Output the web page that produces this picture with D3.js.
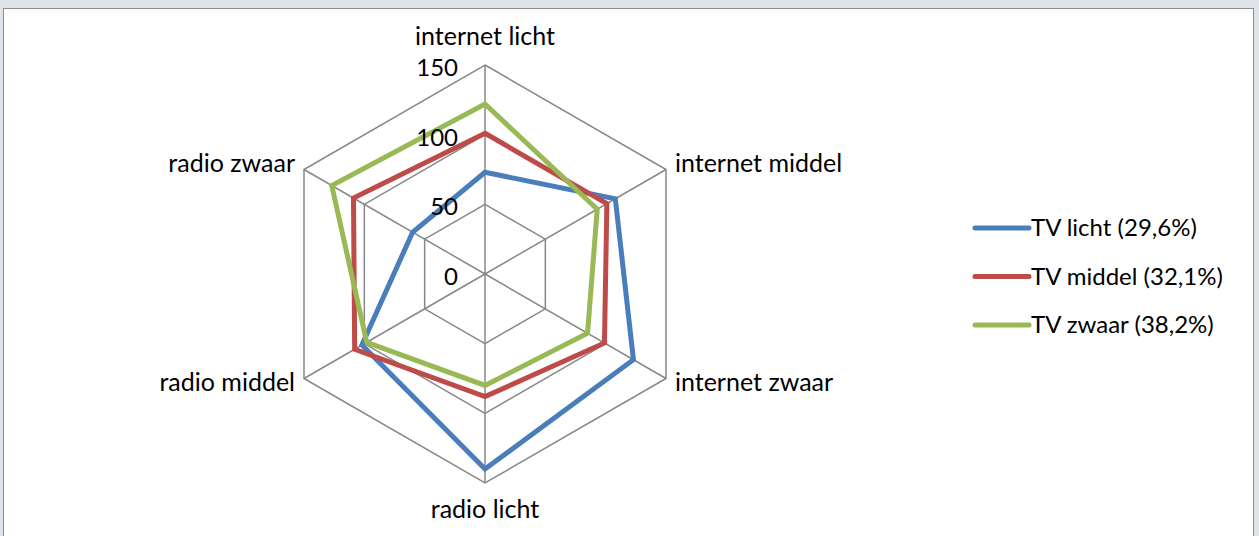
<!DOCTYPE html>
<html>
<head>
<meta charset="utf-8">
<script src="https://cdn.jsdelivr.net/npm/d3@7"></script>
<style>
  body { margin: 0; background: #d9dee4; }
  svg { display: block; }
  text { font-family: Lato, "Open Sans", sans-serif; fill: #000; }
</style>
</head>
<body>
<svg id="chart" width="1259" height="536"></svg>
<script>
// categories round the radar, clockwise from the top
const categorieen = ['internet licht', 'internet middel', 'internet zwaar', 'radio licht', 'radio middel', 'radio zwaar'];
const tvLicht  = [73, 108, 123, 140, 102, 60];
const tvMiddel = [101, 101, 99, 88, 108, 109];
const tvZwaar  = [122, 93, 85, 80, 98, 127];
const reeksNamen = ['TV licht (29,6%)', 'TV middel (32,1%)', 'TV zwaar (38,2%)'];
const tickWaarden = [0, 50, 100, 150];

const kleuren = ['#4a7ebb', '#be4b48', '#98b954'];
const reeksen = [tvLicht, tvMiddel, tvZwaar];

const svg = d3.select('#chart');

// achtergrond en kader
svg.append('rect')
  .attr('x', 0).attr('y', 0).attr('width', 1259).attr('height', 536)
  .attr('fill', '#dfe4ea');
svg.append('rect')
  .attr('x', 3.5).attr('y', 8.5).attr('width', 1250).attr('height', 540)
  .attr('fill', '#fff')
  .attr('stroke', '#8e8e8e');

const cx = 485, cy = 274;
const r = d3.scaleLinear().domain([0, 150]).range([0, 209]);
const hoek = d3.scalePoint().domain(d3.range(categorieen.length + 1)).range([0, 2 * Math.PI]);

function punt(i, v) {
  const a = hoek(i);
  return [cx + r(v) * Math.sin(a), cy - r(v) * Math.cos(a)];
}

const g = svg.append('g');

// raster
tickWaarden.filter(t => t > 0).forEach(t => {
  g.append('path')
    .attr('d', d3.line()(categorieen.map((c, i) => punt(i, t))) + 'Z')
    .attr('fill', 'none')
    .attr('stroke', '#888')
    .attr('stroke-width', 1.5);
});
categorieen.forEach((c, i) => {
  const p = punt(i, 150);
  g.append('line')
    .attr('x1', cx).attr('y1', cy).attr('x2', p[0]).attr('y2', p[1])
    .attr('stroke', '#888')
    .attr('stroke-width', 1.5);
});

// reeksen
const lijn = d3.line().x(d => d[0]).y(d => d[1]);
reeksen.forEach((reeks, k) => {
  g.append('path')
    .attr('d', lijn(reeks.map((v, i) => punt(i, v))) + 'Z')
    .attr('fill', 'none')
    .attr('stroke', kleuren[k])
    .attr('stroke-width', 5)
    .attr('stroke-linejoin', 'miter');
});

// tick labels
tickWaarden.forEach(t => {
  g.append('text')
    .attr('x', cx - 27)
    .attr('y', cy - r(t) + 11)
    .attr('text-anchor', 'end')
    .style('font-size', '24px')
    .text(t);
});

// categorie labels
const labelPos = [
  { dx: 0, dy: -20, anchor: 'middle' },
  { dx: 9, dy: 2, anchor: 'start' },
  { dx: 9, dy: 12, anchor: 'start' },
  { dx: 0, dy: 35, anchor: 'middle' },
  { dx: -9, dy: 12, anchor: 'end' },
  { dx: -9, dy: 2, anchor: 'end' }
];
categorieen.forEach((c, i) => {
  const p = punt(i, 150);
  g.append('text')
    .attr('x', p[0] + labelPos[i].dx)
    .attr('y', p[1] + labelPos[i].dy)
    .attr('text-anchor', labelPos[i].anchor)
    .style('font-size', '25px')
    .text(c);
});

// legenda
const legenda = svg.append('g').attr('transform', 'translate(975,228)');
reeksNamen.forEach((naam, k) => {
  const item = legenda.append('g').attr('transform', `translate(0,${k * 48.5})`);
  item.append('line')
    .attr('x1', 0).attr('x2', 54).attr('y1', 0).attr('y2', 0)
    .attr('stroke', kleuren[k])
    .attr('stroke-width', 5)
    .attr('stroke-linecap', 'round');
  item.append('text')
    .attr('x', 56).attr('y', 8)
    .style('font-size', '24px')
    .text(naam);
});
</script>
</body>
</html>
